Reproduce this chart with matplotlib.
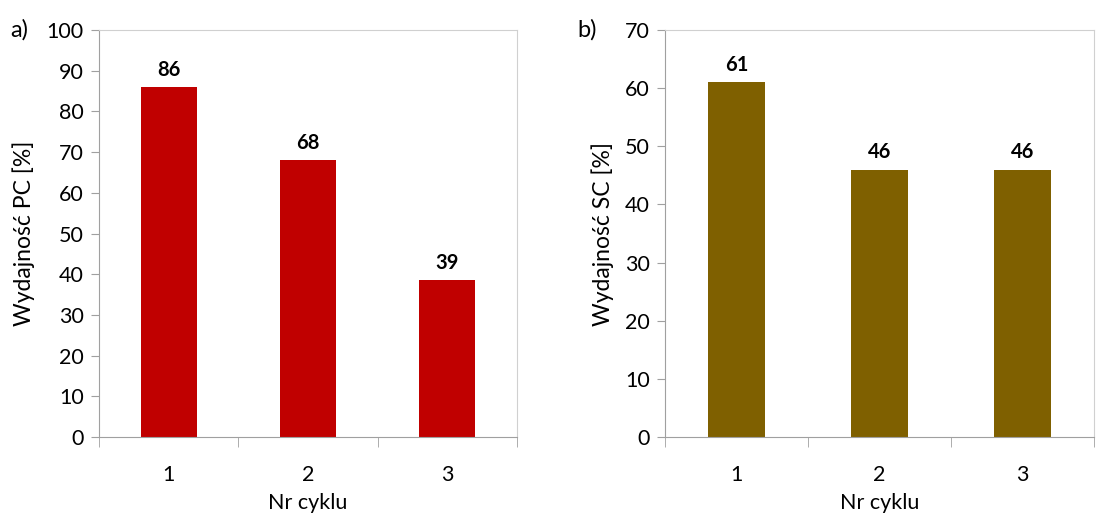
import matplotlib.pyplot as plt
import numpy as np

plt.rcParams['font.family'] = ['Lato', 'DejaVu Sans']

cycles = ['1', '2', '3']
pc_values = [86, 68, 38.5]
pc_labels = ['86', '68', '39']
sc_values = [61, 46, 46]
sc_labels = ['61', '46', '46']

fig = plt.figure(figsize=(11.09, 5.27), dpi=100)
W, H = 1109, 527
ax1 = fig.add_axes([99 / W, 1 - 437 / H, (517 - 99) / W, (437 - 30) / H])
ax2 = fig.add_axes([665 / W, 1 - 437 / H, (1094 - 665) / W, (437 - 30) / H])

panels = [
    (ax1, pc_values, pc_labels, '#C00000', 100, 'Wydajność PC [%]'),
    (ax2, sc_values, sc_labels, '#7F6000', 70, 'Wydajność SC [%]'),
]

for ax, vals, labels, color, ymax, ylabel in panels:
    x = np.arange(len(cycles))
    ax.bar(x, vals, width=0.4, color=color)
    for xi, v, lab in zip(x, vals, labels):
        ax.text(xi, v + ymax * 0.018, lab, ha='center', va='bottom',
                fontsize=14.5, fontweight='bold')
    ax.set_xlim(-0.5, len(cycles) - 0.5)
    ax.set_ylim(0, ymax)
    ax.set_yticks(np.arange(0, ymax + 1, 10))
    ax.set_xticks(x)
    ax.set_xticklabels(cycles)
    ax.set_xticks(np.arange(-0.5, len(cycles), 1), minor=True)
    ax.tick_params(axis='x', which='major', length=0, pad=20, labelsize=15.5)
    ax.tick_params(axis='x', which='minor', length=7, color='#a0a0a0')
    ax.tick_params(axis='y', length=6, color='#a0a0a0', labelsize=15.5, pad=5)
    for s in ax.spines.values():
        s.set_color('#d0d0d0')
    ax.spines['left'].set_color('#a0a0a0')
    ax.spines['bottom'].set_color('#a0a0a0')
    ax.set_ylabel(ylabel, fontsize=16.5, labelpad=8)
    ax.set_xlabel('Nr cyklu', fontsize=15.5, labelpad=6)

fig.text(10 / W, 1 - 30 / H, 'a)', fontsize=17, va='center')
fig.text(577 / W, 1 - 30 / H, 'b)', fontsize=17, va='center')

fig.savefig('out.png', dpi=100)
